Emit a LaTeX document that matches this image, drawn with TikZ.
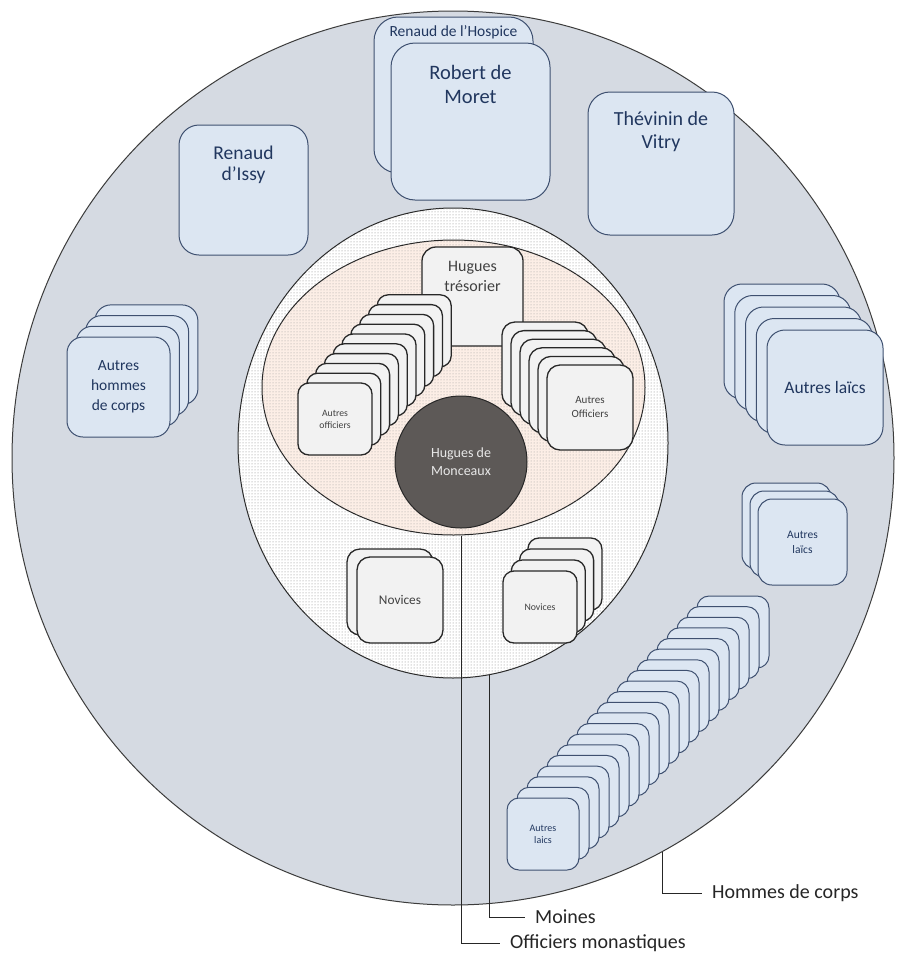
\documentclass[tikz,border=0pt]{standalone}
\usepackage{fontspec}
\setmainfont{Carlito}
\usetikzlibrary{shapes.geometric,patterns,calc}
\definecolor{outerfill}{RGB}{213,218,226}
\definecolor{outerbd}{RGB}{60,60,60}
\definecolor{bluefill}{RGB}{220,230,242}
\definecolor{bluebd}{RGB}{62,80,112}
\definecolor{bluetext}{RGB}{33,55,95}
\definecolor{greyfill}{RGB}{242,242,242}
\definecolor{greybd}{RGB}{40,40,40}
\definecolor{greytext}{RGB}{64,64,64}
\definecolor{peachfill}{RGB}{252,238,230}
\definecolor{dotgray}{RGB}{130,130,130}
\definecolor{hmfill}{RGB}{93,89,87}
\definecolor{hmtext}{RGB}{232,232,232}
\begin{document}
\begin{tikzpicture}[x=1pt,y=-1pt,
  outbox/.style={rectangle, draw=bluebd, fill=bluefill, line width=1pt, inner sep=0pt, rounded corners=#1},
  outbox/.default=12pt,
  inbox/.style={rectangle, draw=greybd, fill=greyfill, line width=1.3pt, inner sep=0pt, rounded corners=#1},
  inbox/.default=10pt,
  btxt/.style={text=bluetext, align=center, inner sep=0pt},
  gtxt/.style={text=greytext, align=center, inner sep=0pt},
  labtxt/.style={text=black!85, anchor=west, inner xsep=10pt, inner ysep=0pt, font=\fontsize{20}{24}\selectfont},
  lab/.style={draw=black!85, line width=1pt}
]
\useasboundingbox (0,0) rectangle (897,956);
\fill[white] (0,0) rectangle (897,956);

% outer circle: hommes de corps
\node[ellipse, draw=outerbd, fill=outerfill, line width=1pt, inner sep=0pt,
      minimum width=882pt, minimum height=894pt] (outer) at (453,458) {};

% large blue boxes
\node[outbox=24pt, minimum width=159pt, minimum height=156pt] (hospice) at (453.5,95) {};
\node[btxt, font=\fontsize{15.5}{18}\selectfont] (hospicet) at ($(hospice.north)+(0,16)$) {Renaud de l’Hospice};
\node[outbox=24pt, minimum width=159pt, minimum height=157pt] (robert) at (470.5,121.5) {};
\node[btxt, font=\fontsize{20.5}{24}\selectfont] (robertt) at ($(robert.north)+(0,42)$) {Robert de\\Moret};
\node[outbox=22pt, minimum width=146pt, minimum height=143pt] (thevinin) at (661,163.5) {};
\node[btxt, font=\fontsize{20}{23}\selectfont] (thevinint) at ($(thevinin.north)+(0,40)$) {Thévinin de\\Vitry};
\node[outbox=20pt, minimum width=129pt, minimum height=130pt] (issy) at (243.5,190) {};
\node[btxt, font=\fontsize{19.5}{21}\selectfont] (issyt) at ($(issy.north)+(0,40)$) {Renaud\\d’Issy};

% stack: autres hommes de corps
\foreach \i in {3,...,0}
  \node[outbox=16pt, minimum width=103pt, minimum height=100pt] (hc\i) at ({118.5+\i*9.3},{387-\i*10.7}) {};
\node[btxt, font=\fontsize{15.5}{20}\selectfont] (hct) at (hc0) {Autres\\hommes\\de corps};

% stack: autres laics (big)
\foreach \i in {4,...,0}
  \node[outbox=18pt, minimum width=116pt, minimum height=115pt] (lb\i) at ({825-\i*10.75},{387.5-\i*11.5}) {};
\node[btxt, font=\fontsize{17.5}{20}\selectfont] (lbt) at (lb0) {Autres laïcs};

% stack: autres laics (small)
\foreach \i in {2,...,0}
  \node[outbox=14pt, minimum width=89pt, minimum height=86pt] (ls\i) at ({802.5-\i*8},{542-\i*8}) {};
\node[btxt, font=\fontsize{11.5}{15}\selectfont] (lst) at (ls0) {Autres\\laïcs};

% stack: autres laics (diagonal)
\foreach \i in {19,...,0}
  \node[outbox=12pt, minimum width=72pt, minimum height=72pt] (ld\i) at ({543+\i*10},{834-\i*10.63}) {};
\node[btxt, font=\fontsize{10}{12}\selectfont] (ldt) at (ld0) {Autres\\laics};

% inner circle: moines
\node[ellipse, draw=greybd, fill=white, line width=1pt, inner sep=0pt,
      postaction={pattern=dots, pattern color=dotgray},
      minimum width=430pt, minimum height=470pt] (moines) at (453,443) {};

% middle ellipse: officiers
\node[ellipse, draw=greybd, fill=peachfill, line width=1pt, inner sep=0pt,
      postaction={pattern=dots, pattern color=dotgray!80},
      minimum width=383pt, minimum height=295pt] (peach) at (453.5,387.5) {};

% Hugues tresorier
\node[inbox=14pt, minimum width=101pt, minimum height=99pt] (tres) at (472.5,296.5) {};
\node[gtxt, font=\fontsize{16}{20}\selectfont] (trest) at ($(tres.north)+(0,30)$) {Hugues\\trésorier};

% stack: autres officiers (left)
\foreach \i in {9,...,0}
  \node[inbox=11pt, minimum width=74pt, minimum height=72pt] (ol\i) at ({335+\i*8.8},{419-\i*9.8}) {};
\node[gtxt, font=\fontsize{9.7}{12}\selectfont] (olt) at (ol0) {Autres\\officiers};

% stack: autres officiers (right)
\foreach \i in {5,...,0}
  \node[inbox=13pt, minimum width=86pt, minimum height=85pt] (or\i) at ({590-\i*9},{407.5-\i*8.6}) {};
\node[gtxt, font=\fontsize{11}{14}\selectfont] (ort) at (or0) {Autres\\Officiers};

% Hugues de Monceaux
\node[circle, draw=greybd, fill=hmfill, line width=1pt, inner sep=0pt, minimum size=132pt,
      text=hmtext, align=center, font=\fontsize{14}{18}\selectfont] (hm) at (461,462) {Hugues de\\Monceaux};

% novices
\foreach \i in {1,...,0}
  \node[inbox=13pt, minimum width=86pt, minimum height=86pt] (nl\i) at ({400-\i*10},{600-\i*8}) {};
\node[gtxt, font=\fontsize{13.3}{16}\selectfont] (nlt) at (nl0) {Novices};
\foreach \i in {3,...,0}
  \node[inbox=11pt, minimum width=74pt, minimum height=72pt] (nr\i) at ({540+\i*8.3},{607-\i*11}) {};
\node[gtxt, font=\fontsize{9.8}{12}\selectfont] (nrt) at (nr0) {Novices};

% labels
\node[labtxt] (lhommes) at (702,893) {Hommes de corps};
\node[labtxt] (lmoines) at (525,917) {Moines};
\node[labtxt] (loff) at (500,943) {Officiers monastiques};
\draw[lab] (outer.-62) |- (lhommes.west);
\draw[lab] (moines.-81.7) |- (lmoines.west);
\draw[lab] (peach.south -| hm.south) |- (loff.west);
\end{tikzpicture}
\end{document}
